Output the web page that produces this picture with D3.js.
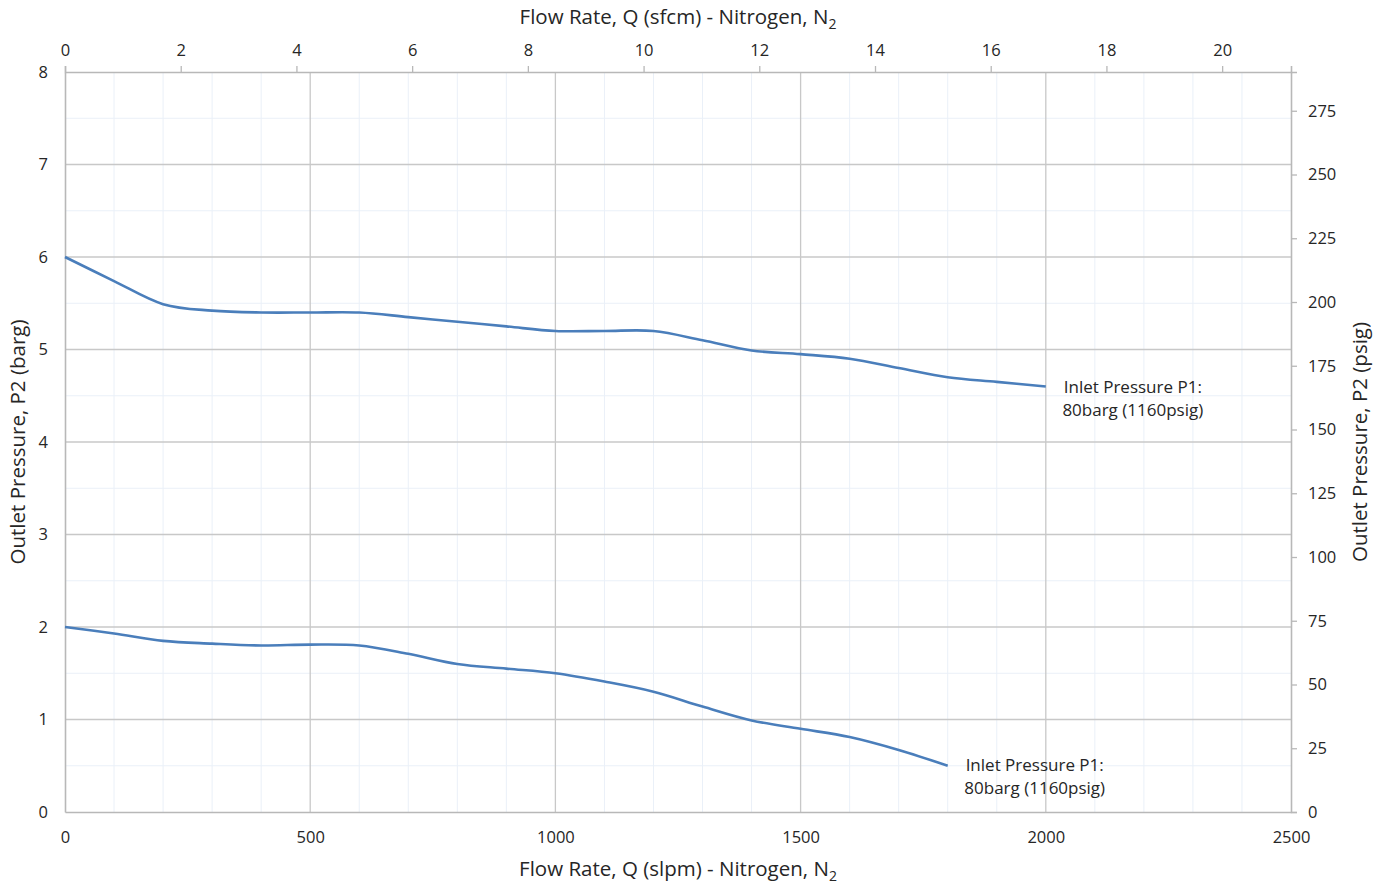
<!DOCTYPE html>
<html>
<head>
<meta charset="utf-8">
<script src="https://cdn.jsdelivr.net/npm/d3@7"></script>
<style>
  body { margin: 0; background: #fff; }
  svg text { font-family: "Open Sans", sans-serif; fill: #262626; }
</style>
</head>
<body>
<div class="chart"></div>
<script>
// flow in slpm, outlet pressure in barg
var flowHigh = [0, 100, 200, 300, 400, 500, 600, 700, 800, 900, 1000, 1100, 1200, 1300, 1400, 1500, 1600, 1700, 1800, 1900, 2000];
var p2High   = [6.0, 5.74, 5.49, 5.42, 5.40, 5.40, 5.40, 5.35, 5.30, 5.25, 5.20, 5.20, 5.20, 5.10, 4.99, 4.95, 4.90, 4.80, 4.70, 4.65, 4.60];
var flowLow  = [0, 100, 200, 300, 400, 500, 600, 700, 800, 900, 1000, 1100, 1200, 1300, 1400, 1500, 1600, 1700, 1800];
var p2Low    = [2.0, 1.93, 1.85, 1.82, 1.80, 1.81, 1.80, 1.71, 1.60, 1.55, 1.50, 1.41, 1.30, 1.14, 0.99, 0.90, 0.81, 0.67, 0.50];

var bottomTicks = [0, 500, 1000, 1500, 2000, 2500];
var leftTicks = [0, 1, 2, 3, 4, 5, 6, 7, 8];
var rightTicks = [0, 25, 50, 75, 100, 125, 150, 175, 200, 225, 250, 275];
var topTicks = [0, 2, 4, 6, 8, 10, 12, 14, 16, 18, 20];
var labelLines = ["Inlet Pressure P1:", "80barg (1160psig)"];

var svgWidth = 1387;
var svgHeight = 886;
var margin = { top: 72, bottom: 74, left: 65, right: 96 };
var chartWidth = svgWidth - margin.left - margin.right;
var chartHeight = svgHeight - margin.top - margin.bottom;

var svg = d3.select(".chart").append("svg")
    .attr("width", svgWidth)
    .attr("height", svgHeight);

var g = svg.append("g")
    .attr("transform", `translate(${margin.left}, ${margin.top})`);

var xScale = d3.scaleLinear().domain([0, 2500]).range([0, chartWidth]);
var xTop = d3.scaleLinear().domain([0, 21.19]).range([0, chartWidth]);
var yScale = d3.scaleLinear().domain([0, 8]).range([chartHeight, 0]);
var yRight = d3.scaleLinear().domain([0, 290.2]).range([chartHeight, 0]);

// minor grid
g.append("g").selectAll("line")
    .data(d3.range(100, 2500, 100).filter(d => d % 500 != 0))
    .enter().append("line")
    .attr("x1", d => xScale(d)).attr("x2", d => xScale(d))
    .attr("y1", 0).attr("y2", chartHeight)
    .attr("stroke", "#eaf0f8").attr("stroke-width", 1);

g.append("g").selectAll("line")
    .data(d3.range(0.5, 8, 1))
    .enter().append("line")
    .attr("x1", 0).attr("x2", chartWidth)
    .attr("y1", d => yScale(d)).attr("y2", d => yScale(d))
    .attr("stroke", "#eaf0f8").attr("stroke-width", 1);

// major grid
g.append("g").selectAll("line")
    .data([500, 1000, 1500, 2000])
    .enter().append("line")
    .attr("x1", d => xScale(d)).attr("x2", d => xScale(d))
    .attr("y1", 0).attr("y2", chartHeight)
    .attr("stroke", "#c8c8c8").attr("stroke-width", 1.3);

g.append("g").selectAll("line")
    .data([1, 2, 3, 4, 5, 6, 7])
    .enter().append("line")
    .attr("x1", 0).attr("x2", chartWidth)
    .attr("y1", d => yScale(d)).attr("y2", d => yScale(d))
    .attr("stroke", "#c8c8c8").attr("stroke-width", 1.3);

// axes
var xAxis = d3.axisBottom(xScale).tickValues(bottomTicks).tickFormat(d3.format("d")).tickSize(0).tickPadding(19);
var xAxisTop = d3.axisTop(xTop).tickValues(topTicks).tickSize(6).tickPadding(10);
var yAxis = d3.axisLeft(yScale).tickValues(leftTicks).tickSize(0).tickPadding(17);
var yAxisRight = d3.axisRight(yRight).tickValues(rightTicks).tickSize(6).tickPadding(11);

var axisColor = "#b8b8b8";
function styleAxis(sel) {
    sel.selectAll("path").attr("stroke", axisColor).attr("stroke-width", 1.6);
    sel.selectAll("line").attr("stroke", axisColor).attr("stroke-width", 1.3);
    sel.selectAll("text").style("font-size", "16.5px").attr("fill", "#262626");
}

g.append("g").attr("transform", `translate(0, ${chartHeight})`).call(xAxis).call(styleAxis);
g.append("g").call(xAxisTop).call(styleAxis);
g.append("g").call(yAxis).call(styleAxis);
g.append("g").attr("transform", `translate(${chartWidth}, 0)`).call(yAxisRight).call(styleAxis);

// lines
var line = d3.line()
    .x(d => xScale(d[0]))
    .y(d => yScale(d[1]))
    .curve(d3.curveCardinal.tension(0));

g.append("path")
    .datum(flowHigh.map((f, i) => [f, p2High[i]]))
    .attr("d", line)
    .attr("fill", "none")
    .attr("stroke", "#4a7ebb")
    .attr("stroke-width", 2.6);

g.append("path")
    .datum(flowLow.map((f, i) => [f, p2Low[i]]))
    .attr("d", line)
    .attr("fill", "none")
    .attr("stroke", "#4a7ebb")
    .attr("stroke-width", 2.6);

// series labels
function addLabel(x, y) {
    var t = g.append("text")
        .attr("text-anchor", "middle")
        .style("font-size", "17px");
    labelLines.forEach(function(s, i) {
        t.append("tspan").attr("x", x).attr("y", y + i * 23).text(s);
    });
}
addLabel(xScale(2000) + 87, yScale(4.6) + 6);
addLabel(xScale(1800) + 87, yScale(0.5) + 5);

// axis titles
svg.append("text")
    .attr("x", margin.left + xScale(1250)).attr("y", 876)
    .attr("text-anchor", "middle").style("font-size", "20.5px")
    .html("Flow Rate, Q (slpm) - Nitrogen, N<tspan dy='5' font-size='14px'>2</tspan>");

svg.append("text")
    .attr("x", margin.left + xScale(1250)).attr("y", 24)
    .attr("text-anchor", "middle").style("font-size", "20.5px")
    .html("Flow Rate, Q (sfcm) - Nitrogen, N<tspan dy='5' font-size='14px'>2</tspan>");

svg.append("text")
    .attr("transform", `translate(25, ${margin.top + chartHeight / 2}) rotate(-90)`)
    .attr("text-anchor", "middle").style("font-size", "20.5px")
    .text("Outlet Pressure, P2 (barg)");

svg.append("text")
    .attr("transform", `translate(1367, ${margin.top + chartHeight / 2}) rotate(-90)`)
    .attr("text-anchor", "middle").style("font-size", "20.5px")
    .text("Outlet Pressure, P2 (psig)");
</script>
</body>
</html>
